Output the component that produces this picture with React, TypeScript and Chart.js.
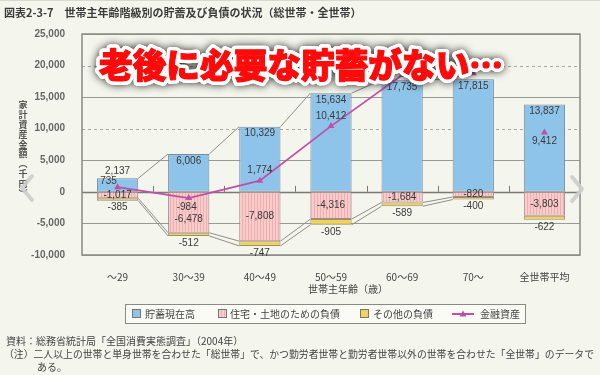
import React, { useEffect, useRef } from 'react';
import { Chart, registerables } from 'chart.js';
Chart.register(...registerables);

const categories = ['～29', '30～39', '40～49', '50～59', '60～69', '70～', '全世帯平均'];
const savings = [2137, 6006, 10329, 15634, 17735, 17815, 13837];
const housingDebt = [-1017, -6478, -7808, -4316, -1684, -820, -3803];
const otherDebt = [-385, -512, -747, -905, -589, -400, -622];
const financialAssets = [735, -984, 1774, 10412, 18500, 18800, 9412];
const financialLabels = ['735', '-984', '1,774', '10,412', '', '', '9,412'];
const yMin = -10000;
const yMax = 25000;
const yStep = 5000;
const dashedTicks = [10000, 20000];
const legendLabels = ['貯蓄現在高', '住宅・土地のための負債', 'その他の負債', '金融資産'];
const titleText = '図表2-3-7　世帯主年齢階級別の貯蓄及び負債の状況（総世帯・全世帯）';
const bannerText = '老後に必要な貯蓄がない…';
const yTitleChars = ['家', '計', '資', '産', '金', '額', '︵', '千', '円', '︶'];
const xTitle = '世帯主年齢（歳）';
const notes = [
  '資料：総務省統計局「全国消費実態調査」（2004年）',
  '（注）二人以上の世帯と単身世帯を合わせた「総世帯」で、かつ勤労者世帯と勤労者世帯以外の世帯を合わせた「全世帯」のデータで',
  'ある。',
];

const BG = '#f4f5ec';
const BLUE = '#8fc4ea';
const YELLOW = '#f1d25a';
const LINE = '#c04fa8';
const CJK = "'Noto Sans CJK JP', sans-serif";
const NUM = "'Liberation Sans', Arial, sans-serif";
const fmt = (v: number) => v.toLocaleString('en-US');

export default function App() {
  const ref = useRef<HTMLCanvasElement>(null);
  useEffect(() => {
    const canvas = ref.current!;
    const ctx0 = canvas.getContext('2d')!;
    const pc = document.createElement('canvas');
    pc.width = 3;
    pc.height = 4;
    const p = pc.getContext('2d')!;
    p.fillStyle = '#f9cccc';
    p.fillRect(0, 0, 3, 4);
    p.fillStyle = '#efaeb0';
    p.fillRect(2, 0, 1, 4);
    const pattern = ctx0.createPattern(pc, 'repeat')!;

    const bgPlugin = {
      id: 'bg',
      beforeDraw(chart: any) {
        const c = chart.ctx;
        c.save();
        c.fillStyle = BG;
        c.fillRect(0, 0, chart.width, chart.height);
        c.strokeStyle = '#d8d8d0';
        c.lineWidth = 1;
        c.beginPath();
        c.moveTo(0, 0.5);
        c.lineTo(chart.width, 0.5);
        c.stroke();
        c.restore();
      },
    };

    const gridPlugin = {
      id: 'gridlines',
      beforeDatasetsDraw(chart: any) {
        const c = chart.ctx;
        const { left, right } = chart.chartArea;
        const ys = chart.scales.y;
        c.save();
        for (let v = yMin; v <= yMax; v += yStep) {
          const y = Math.round(ys.getPixelForValue(v)) + 0.5;
          c.beginPath();
          if (dashedTicks.includes(v)) {
            c.setLineDash([3, 3]);
            c.strokeStyle = '#a8a8a0';
            c.lineWidth = 1;
          } else {
            c.setLineDash([]);
            c.strokeStyle = v === 0 ? '#7a7a75' : '#9a9a94';
            c.lineWidth = v === 0 ? 1.3 : 1;
          }
          c.moveTo(left, y);
          c.lineTo(right, y);
          c.stroke();
        }
        c.setLineDash([]);
        const y0 = ys.getPixelForValue(0);
        const n = categories.length;
        c.strokeStyle = '#7a7a75';
        c.lineWidth = 1;
        for (let j = 1; j < n; j++) {
          const x = Math.round(left + (j * (right - left)) / n) + 0.5;
          c.beginPath();
          c.moveTo(x, y0 - 6);
          c.lineTo(x, y0);
          c.stroke();
        }
        const ms = chart.getDatasetMeta(0).data;
        const mh = chart.getDatasetMeta(1).data;
        const mo = chart.getDatasetMeta(2).data;
        c.strokeStyle = '#8f8f8a';
        c.lineWidth = 1;
        for (let i = 0; i < n - 2; i++) {
          for (const m of [ms, mh, mo]) {
            const a = m[i];
            const b = m[i + 1];
            c.beginPath();
            c.moveTo(a.x + a.width / 2, a.y);
            c.lineTo(b.x - b.width / 2, b.y);
            c.stroke();
          }
        }
        c.restore();
      },
      afterDatasetsDraw(chart: any) {
        const c = chart.ctx;
        const { left, right, top, bottom } = chart.chartArea;
        c.save();
        c.strokeStyle = '#8a8a85';
        c.lineWidth = 1.5;
        c.strokeRect(left, top, right - left, bottom - top);
        c.restore();
      },
    };

    const labelPlugin = {
      id: 'labels',
      afterDatasetsDraw(chart: any) {
        const c = chart.ctx;
        const ms = chart.getDatasetMeta(0).data;
        const mh = chart.getDatasetMeta(1).data;
        const mo = chart.getDatasetMeta(2).data;
        const ml = chart.getDatasetMeta(3).data;
        c.save();
        c.font = `10px ${NUM}`;
        c.fillStyle = '#3a3a3a';
        c.textAlign = 'center';
        c.textBaseline = 'middle';
        const lineOffsets = [[-9, -6], [-2, 9], [0, -10], [0, -10], [0, -10], [0, -10], [0, 9]];
        for (let i = 0; i < categories.length; i++) {
          const s = ms[i];
          const h = s.base - s.y;
          c.fillText(fmt(savings[i]), s.x, h < 20 ? s.y - 7 : s.y + 7);
          const hh = mh[i];
          const hy = financialAssets[i] < 0 ? hh.y - 14 : (hh.y + hh.base) / 2;
          c.fillText(fmt(housingDebt[i]), hh.x, hy);
          const o = mo[i];
          c.fillText(fmt(otherDebt[i]), o.x, o.y + 7);
          if (financialLabels[i]) {
            const l = ml[i];
            c.fillText(financialLabels[i], l.x + lineOffsets[i][0], l.y + lineOffsets[i][1]);
          }
        }
        c.restore();
      },
    };

    const decoPlugin = {
      id: 'deco',
      afterDraw(chart: any) {
        const c = chart.ctx;
        c.save();
        c.fillStyle = '#3c3c3c';
        c.font = `bold 11px ${CJK}`;
        c.textBaseline = 'middle';
        c.textAlign = 'left';
        c.fillText(titleText, 4, 13);
        c.fillStyle = '#555';
        c.font = `bold 9px ${CJK}`;
        c.textAlign = 'center';
        yTitleChars.forEach((ch, k) => c.fillText(ch, 23, 105 + k * 9.8));
        c.fillStyle = '#444';
        c.font = `10px ${CJK}`;
        c.fillText(xTitle, 348, 289);
        c.fillStyle = '#fbfbf6';
        c.fillRect(125, 304, 400, 19);
        c.strokeStyle = '#8a8a85';
        c.lineWidth = 1;
        c.strokeRect(125.5, 304.5, 400, 19);
        c.font = `10px ${CJK}`;
        c.textAlign = 'left';
        const sq = (x: number, fill: any) => {
          c.fillStyle = fill;
          c.fillRect(x, 309, 9, 9);
          c.strokeStyle = '#777';
          c.strokeRect(x + 0.5, 309.5, 8, 8);
        };
        sq(132, BLUE);
        c.fillStyle = '#444';
        c.fillText(legendLabels[0], 145, 314);
        sq(218, pattern);
        c.fillStyle = '#444';
        c.fillText(legendLabels[1], 230, 314);
        sq(360, YELLOW);
        c.fillStyle = '#444';
        c.fillText(legendLabels[2], 373, 314);
        c.strokeStyle = LINE;
        c.lineWidth = 2;
        c.beginPath();
        c.moveTo(452, 314);
        c.lineTo(474, 314);
        c.stroke();
        c.fillStyle = LINE;
        c.beginPath();
        c.moveTo(463, 310.5);
        c.lineTo(466.5, 316.5);
        c.lineTo(459.5, 316.5);
        c.closePath();
        c.fill();
        c.fillStyle = '#444';
        c.fillText(legendLabels[3], 480, 314);
        c.fillStyle = '#444';
        c.font = `10px ${CJK}`;
        c.fillText(notes[0], 6, 341, 270);
        c.fillText(notes[1], 4, 354, 590);
        c.fillText(notes[2], 37, 367);
        c.strokeStyle = 'rgba(205,205,205,0.9)';
        c.lineWidth = 4;
        c.lineCap = 'round';
        c.lineJoin = 'round';
        c.beginPath();
        c.moveTo(32, 176);
        c.lineTo(22, 188);
        c.lineTo(32, 200);
        c.stroke();
        c.beginPath();
        c.moveTo(572, 177);
        c.lineTo(582, 189);
        c.lineTo(572, 201);
        c.stroke();
        let size = 35;
        c.font = `900 ${size}px ${CJK}`;
        const w = c.measureText(bannerText).width;
        size = (size * 404) / w;
        c.font = `900 ${size}px ${CJK}`;
        c.textAlign = 'center';
        c.textBaseline = 'middle';
        const bx = 301;
        const by = 65;
        c.lineJoin = 'round';
        c.shadowColor = 'rgba(0,0,0,0.85)';
        c.shadowBlur = 9;
        c.strokeStyle = '#ffffff';
        c.lineWidth = 8;
        c.strokeText(bannerText, bx, by);
        c.shadowBlur = 0;
        c.shadowColor = 'transparent';
        c.strokeText(bannerText, bx, by);
        c.fillStyle = '#ff0a0a';
        c.strokeStyle = '#ff0a0a';
        c.lineWidth = 1.2;
        c.strokeText(bannerText, bx, by);
        c.fillText(bannerText, bx, by);
        c.restore();
      },
    };

    const chart = new Chart(canvas, {
      type: 'bar',
      data: {
        labels: categories,
        datasets: [
          {
            label: legendLabels[0],
            data: savings,
            backgroundColor: BLUE,
            borderColor: '#7d8c98',
            borderWidth: 1,
            borderSkipped: false,
            stack: 's',
            order: 2,
          },
          {
            label: legendLabels[1],
            data: housingDebt,
            backgroundColor: pattern,
            borderColor: '#9c8c8c',
            borderWidth: 1,
            borderSkipped: false,
            stack: 's',
            order: 2,
          },
          {
            label: legendLabels[2],
            data: otherDebt,
            backgroundColor: YELLOW,
            borderColor: '#9c8f6a',
            borderWidth: 1,
            borderSkipped: false,
            stack: 's',
            order: 2,
          },
          {
            type: 'line',
            label: legendLabels[3],
            data: financialAssets,
            stack: 'line',
            borderColor: LINE,
            backgroundColor: LINE,
            borderWidth: 1.8,
            pointStyle: 'triangle',
            pointRadius: 4,
            pointBorderWidth: 0,
            pointBackgroundColor: LINE,
            order: 0,
            segment: {
              borderColor: (sc: any) => (sc.p1DataIndex === categories.length - 1 ? 'rgba(0,0,0,0)' : LINE),
            },
          } as any,
        ],
      },
      options: {
        responsive: false,
        animation: false,
        devicePixelRatio: 1,
        layout: { padding: { top: 34, right: 20, left: 0, bottom: 0 } },
        plugins: { legend: { display: false }, tooltip: { enabled: false }, title: { display: false } },
        datasets: { bar: { barPercentage: 0.58, categoryPercentage: 1 } },
        scales: {
          x: {
            stacked: true,
            grid: { display: false },
            border: { display: false },
            ticks: { color: '#444', font: { family: CJK, size: 10 }, padding: 8, maxRotation: 0 },
            afterFit: (s: any) => {
              s.height = 120;
            },
          },
          y: {
            stacked: true,
            min: yMin,
            max: yMax,
            grid: { display: false },
            border: { display: false },
            ticks: {
              stepSize: yStep,
              color: '#666',
              font: { family: NUM, size: 10, weight: 'bold' },
              padding: 9,
              callback: (v: any) => fmt(Number(v)),
            },
            afterFit: (s: any) => {
              s.width = 82;
            },
          },
        },
      } as any,
      plugins: [bgPlugin, gridPlugin, labelPlugin, decoPlugin],
    });
    return () => chart.destroy();
  }, []);
  return (
    <div style={{ position: 'absolute', left: 0, top: 0, width: 600, height: 375 }}>
      <canvas ref={ref} width={600} height={375} style={{ display: 'block', width: 600, height: 375 }} />
    </div>
  );
}
